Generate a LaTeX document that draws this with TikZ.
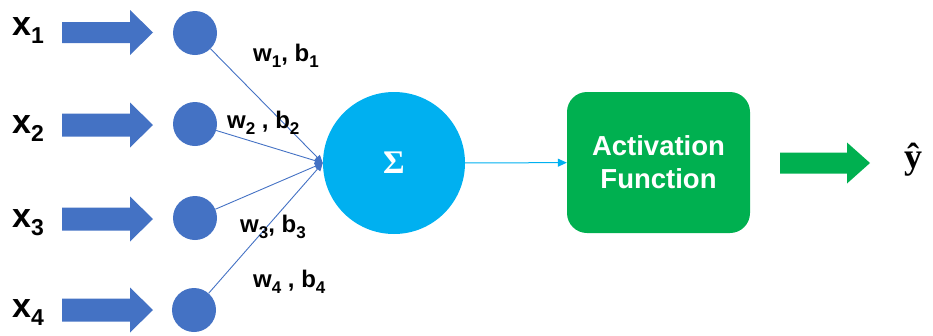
\documentclass[tikz,border=0pt]{standalone}
\usepackage{fontspec}
\setmainfont{Liberation Sans}
\newfontfamily\serifbf{Liberation Serif}
\usetikzlibrary{arrows.meta}
\definecolor{nblue}{HTML}{4472C4}
\definecolor{ncyan}{HTML}{00B0F0}
\definecolor{ngreen}{HTML}{00B050}
\newcommand\fsz[1]{\fontsize{#1}{#1}\selectfont}
\newcommand\lsub[1]{\raisebox{-6pt}{\fsz{17}#1}}
\newcommand\xsub[1]{\raisebox{-8pt}{\fsz{23}#1}}
\newcommand\blockarrow[7]{%
  \fill[#1] (#2,#5-#6) -- (#3,#5-#6) -- (#3,#5-#7) -- (#4,#5) -- (#3,#5+#7) -- (#3,#5+#6) -- (#2,#5+#6) -- cycle;}
\tikzset{
  dot/.style={circle, fill=nblue, minimum size=44, inner sep=0pt},
  xlab/.style={anchor=base west, inner sep=0pt, font=\bfseries\fsz{34}},
  wlab/.style={anchor=base west, inner sep=0pt, font=\bfseries\fsz{24}},
  conn/.style={draw=nblue, line width=0.9pt, -{Triangle[length=8pt,width=7pt]}},
  sumnode/.style={circle, fill=ncyan, minimum size=142, inner sep=0pt, text=white, font=\serifbf\bfseries\fsz{33}},
  actbox/.style={rectangle, rounded corners=20pt, fill=ngreen, minimum width=183, minimum height=141, text=white, align=center, font=\bfseries\fontsize{27.5}{33}\selectfont},
}
\begin{document}
\begin{tikzpicture}[x=1pt,y=-1pt]
\useasboundingbox (0,0) rectangle (933,335);
% input labels
\node[xlab] (x1) at (12,35) {x\xsub{1}};
\node[xlab] (x2) at (12,133) {x\xsub{2}};
\node[xlab] (x3) at (12,227) {x\xsub{3}};
\node[xlab] (x4) at (12,317) {x\xsub{4}};
% block arrows
\blockarrow{nblue}{62}{130}{153}{32.5}{10.5}{22.5}
\blockarrow{nblue}{62}{130}{153}{125}{11.5}{22.5}
\blockarrow{nblue}{62}{130}{153}{219}{11.5}{22.5}
\blockarrow{nblue}{62}{130}{153}{310}{11.5}{22.5}
% input neurons
\node[dot] (c1) at (195,33) {};
\node[dot] (c2) at (195,124) {};
\node[dot] (c3) at (195,218) {};
\node[dot] (c4) at (194,310) {};
% summation
\node[sumnode] (s) at (394,163) {Σ};
% connectors
\draw[conn] (c1) -- (s.west);
\draw[conn] (c2) -- (s.west);
\draw[conn] (c3) -- (s.west);
\draw[conn] (c4) -- (s.west);
% weight labels
\node[wlab] (w1) at (253,61) {w\lsub{1}, b\lsub{1}};
\node[wlab] (w2) at (227,128) {w\lsub{2} , b\lsub{2}};
\node[wlab] (w3) at (240,232) {w\lsub{3}, b\lsub{3}};
\node[wlab] (w4) at (253,287) {w\lsub{4} , b\lsub{4}};
% activation
\node[actbox] (a) at (658.5,162.5) {Activation\\Function};
\draw[draw=ncyan, line width=1pt, -{Triangle[length=9pt,width=8pt]}] (s) -- (a);
% output arrow
\blockarrow{ngreen}{780}{847}{870}{163}{10.5}{20.5}
\node[inner sep=0pt, font=\serifbf\bfseries\fsz{36}] (yhat) at (913,160) {\^{y}};
\end{tikzpicture}
\end{document}
